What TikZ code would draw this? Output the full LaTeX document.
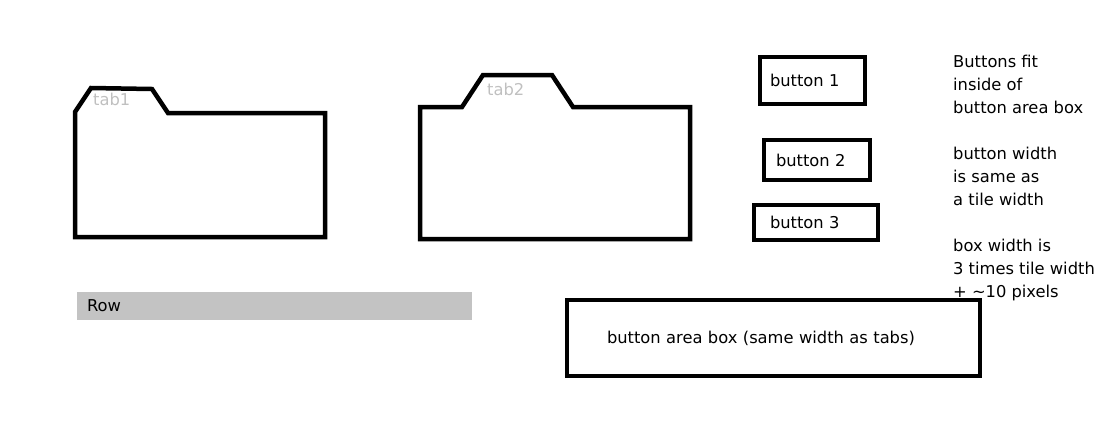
\documentclass[tikz,border=0pt]{standalone}
\usepackage{fontspec}
\setmainfont{DejaVu Sans}
\definecolor{tabgray}{HTML}{C0C0C0}
\definecolor{rowgray}{HTML}{C3C3C3}

\begin{document}
\begin{tikzpicture}[x=1pt,y=-1pt]
\tikzset{edge/.style={line width=4.5pt,line join=miter},
         btn/.style={rectangle,draw,line width=4.5pt,inner ysep=0pt,align=left,font=\fontsize{16.3}{23}\selectfont},
         lab/.style={draw=none,fill=none,inner sep=0pt,font=\fontsize{16.3}{23}\selectfont},
         note/.style={lab,align=left,anchor=base west}}
\useasboundingbox (0,0) rectangle (1098,424);
% folder outlines
\draw[edge] (75,237) -- (75,112) -- (91,88) -- (152,89) -- (168,113) -- (325,113) -- (325,237) -- cycle;
\draw[edge] (420,239) -- (420,107) -- (462,107) -- (483,75) -- (552,75) -- (573,107) -- (690,107) -- (690,239) -- cycle;
\node[lab,text=tabgray,anchor=base west] (t1) at (93,105) {tab1};
\node[lab,text=tabgray,anchor=base west] (t2) at (487,95) {tab2};
% buttons
\node[btn,minimum width=105pt,minimum height=47pt,inner xsep=10pt,text width=85pt] (b1) at (812.5,80.5) {button 1};
\node[btn,minimum width=106pt,minimum height=40pt,inner xsep=12pt,text width=82pt] (b2) at (817,160) {button 2};
\node[btn,minimum width=124pt,minimum height=35pt,inner xsep=16pt,text width=92pt] (b3) at (816,222.5) {button 3};
% row
\node[lab,fill=rowgray,minimum width=395pt,minimum height=28pt,inner xsep=10pt,text width=375pt,align=left] (row) at (274.5,306) {Row};
% notes (anchored at the last line)
\node[note] (notes) at (953,297) {Buttons fit\\inside of\\button area box\\[23pt]button width\\is same as\\a tile width\\[23pt]box width is\\3 times tile width\\+ \textasciitilde10 pixels};
\node[btn,minimum width=413pt,minimum height=76pt,inner xsep=40pt,text width=333pt] (area) at (773.5,338) {button area box (same width as tabs)};
\end{tikzpicture}
\end{document}
